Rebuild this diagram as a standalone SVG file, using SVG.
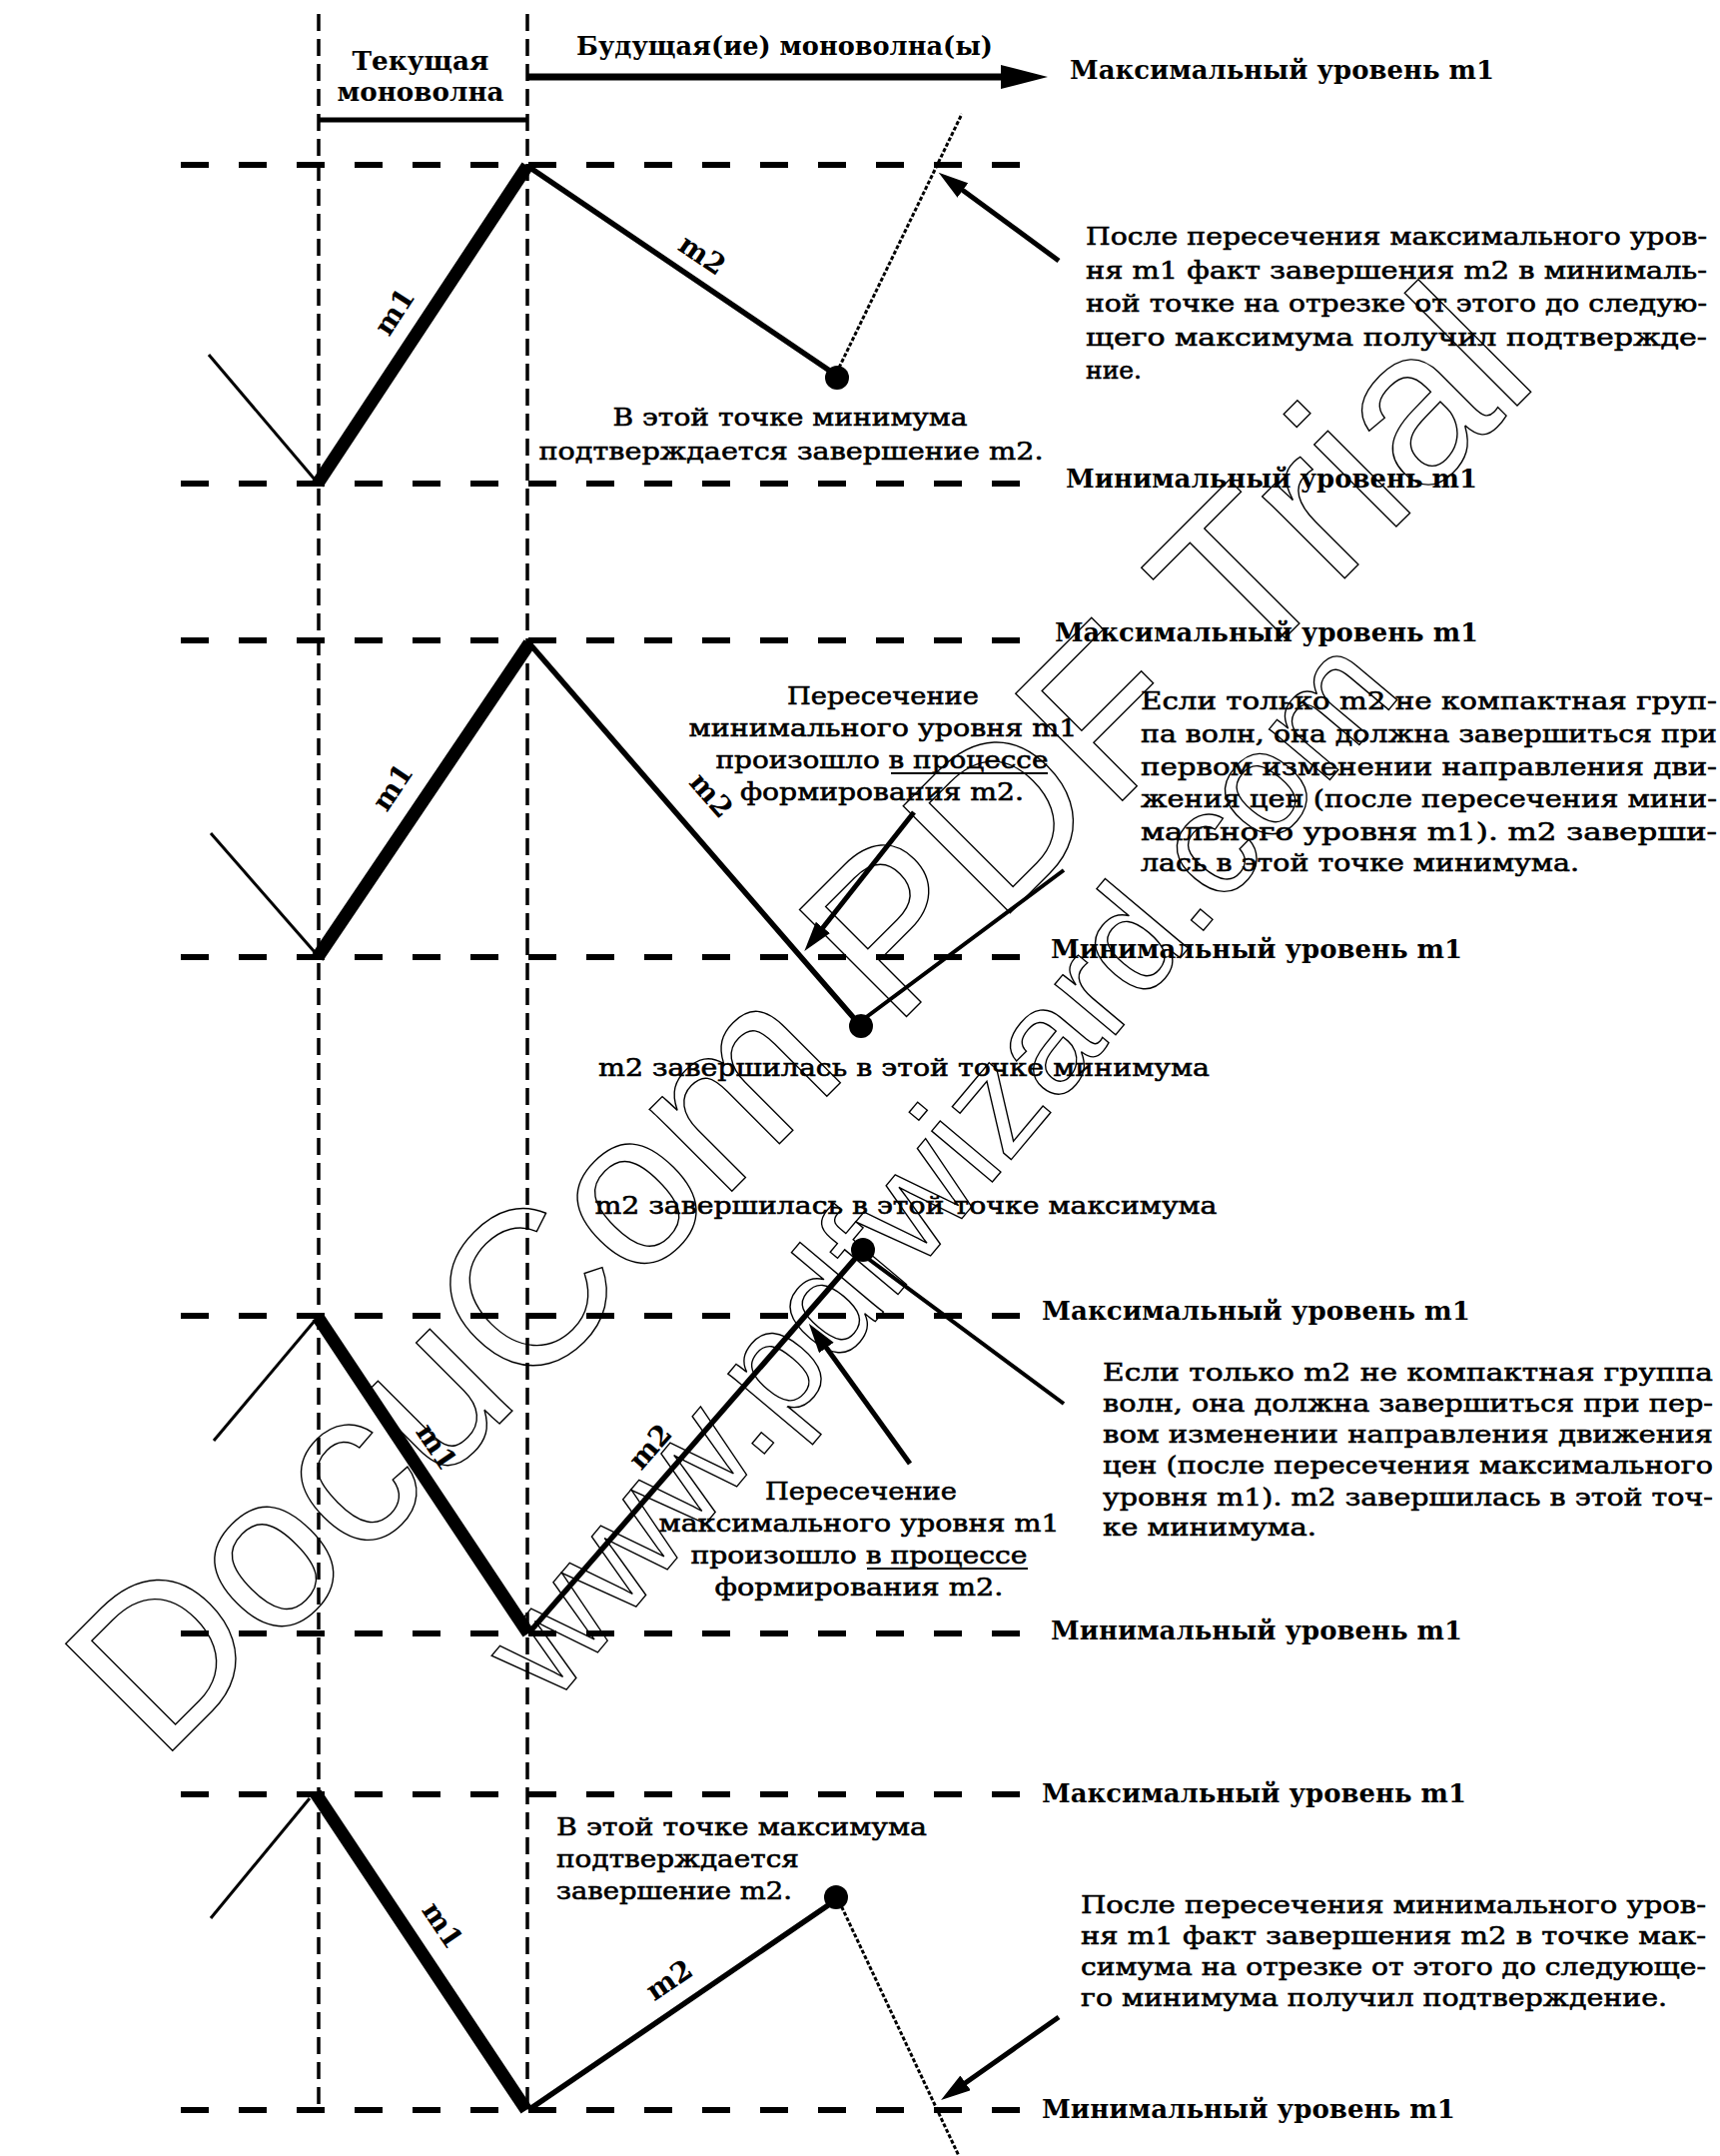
<svg xmlns="http://www.w3.org/2000/svg" width="1722" height="2158" viewBox="0 0 1722 2158">
<style>
  .lvl { stroke:#000; stroke-width:6; stroke-dasharray:28 30; fill:none; }
  .vert { stroke:#000; stroke-width:3.5; stroke-dasharray:17 8; fill:none; }
  .m1 { stroke:#000; stroke-width:13; stroke-linecap:butt; fill:none; }
  .m2 { stroke:#000; stroke-width:5.5; fill:none; }
  .thin { stroke:#000; stroke-width:3; fill:none; }
  .dot { stroke:#000; stroke-width:3; stroke-dasharray:4 2; fill:none; }
  .cont { stroke:#000; stroke-width:4; fill:none; }
  .ptr { stroke:#000; stroke-width:5; fill:none; marker-end:url(#ah); }
  .lbl { font-family:"DejaVu Serif","Liberation Serif",serif; font-weight:bold; font-size:26px; fill:#000; }
  .body { font-family:"DejaVu Serif","Liberation Serif",serif; font-size:25px; fill:#000; stroke:#000; stroke-width:0.6; }
  .wl { font-family:"DejaVu Serif","Liberation Serif",serif; font-weight:bold; font-size:28px; fill:#000; }
  .wm { font-family:"Liberation Sans",Arial,sans-serif; fill:none; stroke:#000; stroke-width:1.4; }
</style>
<defs>
  <marker id="ah" markerUnits="userSpaceOnUse" markerWidth="32" markerHeight="20" refX="16" refY="9" orient="auto">
    <path d="M0,0 L30,9 L0,18 z" fill="#000"/>
  </marker>
  <marker id="ahb" markerUnits="userSpaceOnUse" markerWidth="50" markerHeight="28" refX="27" refY="12" orient="auto">
    <path d="M0,0 L47,12 L0,24 z" fill="#000"/>
  </marker>
</defs>
<rect width="1722" height="2158" fill="#fff"/>

<!-- outlined diagonal stamp text -->
<g id="watermark">
  <text class="wm" font-size="220" transform="translate(160,1765) rotate(-45)">DocuCom PDF Trial</text>
  <text class="wm" font-size="150" transform="translate(553,1708) rotate(-50)">www.pdfwizard.com</text>
</g>

<!-- column guides -->
<g id="guides">
  <line class="vert" x1="319" y1="14" x2="319" y2="2112"/>
  <line class="vert" x1="528" y1="14" x2="528" y2="2112"/>
</g>

<!-- header -->
<g id="header">
  <text class="lbl" x="421" y="70" text-anchor="middle" textLength="137" lengthAdjust="spacingAndGlyphs">Текущая</text>
  <text class="lbl" x="421" y="101" text-anchor="middle" textLength="167" lengthAdjust="spacingAndGlyphs">моноволна</text>
  <line x1="319" y1="120" x2="528" y2="120" stroke="#000" stroke-width="5"/>
  <text class="lbl" x="577" y="55" textLength="417" lengthAdjust="spacingAndGlyphs">Будущая(ие) моноволна(ы)</text>
  <line x1="528" y1="77" x2="1029" y2="77" stroke="#000" stroke-width="7" marker-end="url(#ahb)"/>
  <text class="lbl" x="1071" y="79" textLength="425" lengthAdjust="spacingAndGlyphs">Максимальный уровень m1</text>
</g>

<!-- panel 1: rising m1, falling m2, completion confirmed above the m1 high -->
<g id="panel1">
  <line class="lvl" x1="181" y1="165" x2="1027" y2="165"/>
  <line class="lvl" x1="181" y1="484" x2="1027" y2="484"/>
  <text class="lbl" x="1067" y="488" textLength="412" lengthAdjust="spacingAndGlyphs">Минимальный уровень m1</text>
  <line class="thin" x1="209" y1="355" x2="316" y2="481"/>
  <line class="m1" x1="318" y1="484" x2="528" y2="166"/>
  <line class="m2" x1="528" y1="166" x2="838" y2="376"/>
  <line class="dot" x1="840" y1="368" x2="963" y2="114"/>
  <circle cx="838" cy="378" r="12" fill="#000"/>
  <line class="ptr" x1="1060" y1="261" x2="951" y2="181"/>
  <text class="wl" transform="translate(395,312) rotate(-57)" text-anchor="middle" dominant-baseline="central">m1</text>
  <text class="wl" transform="translate(703,255) rotate(34)" text-anchor="middle" dominant-baseline="central">m2</text>
  <text class="body" x="791" y="426" text-anchor="middle" textLength="355" lengthAdjust="spacingAndGlyphs">В этой точке минимума</text>
  <text class="body" x="792" y="460" text-anchor="middle" textLength="505" lengthAdjust="spacingAndGlyphs">подтверждается завершение m2.</text>
  <text class="body" x="1087" y="245" textLength="622" lengthAdjust="spacingAndGlyphs">После пересечения максимального уров-</text>
  <text class="body" x="1087" y="279" textLength="622" lengthAdjust="spacingAndGlyphs">ня m1 факт завершения m2 в минималь-</text>
  <text class="body" x="1087" y="312" textLength="622" lengthAdjust="spacingAndGlyphs">ной точке на отрезке от этого до следую-</text>
  <text class="body" x="1087" y="346" textLength="622" lengthAdjust="spacingAndGlyphs">щего максимума получил подтвержде-</text>
  <text class="body" x="1087" y="379">ние.</text>
</g>

<!-- panel 2: rising m1, m2 breaks the m1 low -->
<g id="panel2">
  <line class="lvl" x1="181" y1="641" x2="1027" y2="641"/>
  <text class="lbl" x="1056" y="642" textLength="424" lengthAdjust="spacingAndGlyphs">Максимальный уровень m1</text>
  <line class="lvl" x1="181" y1="958" x2="1027" y2="958"/>
  <text class="lbl" x="1052" y="959" textLength="412" lengthAdjust="spacingAndGlyphs">Минимальный уровень m1</text>
  <line class="thin" x1="211" y1="834" x2="315" y2="953"/>
  <line class="m1" x1="318" y1="958" x2="530" y2="644"/>
  <line class="m2" x1="530" y1="644" x2="860" y2="1025"/>
  <line class="cont" x1="866" y1="1019" x2="1065" y2="871"/>
  <circle cx="862" cy="1027" r="12" fill="#000"/>
  <line class="ptr" x1="915" y1="813" x2="814" y2="941"/>
  <text class="wl" transform="translate(393,788) rotate(-56)" text-anchor="middle" dominant-baseline="central">m1</text>
  <text class="wl" transform="translate(712,796) rotate(49)" text-anchor="middle" dominant-baseline="central">m2</text>
  <text class="body" x="884" y="705" text-anchor="middle" textLength="192" lengthAdjust="spacingAndGlyphs">Пересечение</text>
  <text class="body" x="884" y="737" text-anchor="middle" textLength="389" lengthAdjust="spacingAndGlyphs">минимального уровня m1</text>
  <text class="body" x="883" y="769" text-anchor="middle" textLength="333" lengthAdjust="spacingAndGlyphs">произошло в процессе</text>
  <line x1="892" y1="774" x2="1049" y2="774" stroke="#000" stroke-width="2"/>
  <text class="body" x="883" y="801" text-anchor="middle" textLength="284" lengthAdjust="spacingAndGlyphs">формирования m2.</text>
  <text class="body" x="905" y="1077" text-anchor="middle" textLength="612" lengthAdjust="spacingAndGlyphs">m2 завершилась в этой точке минимума</text>
  <text class="body" x="1142" y="710" textLength="577" lengthAdjust="spacingAndGlyphs">Если только m2 не компактная груп-</text>
  <text class="body" x="1142" y="743" textLength="577" lengthAdjust="spacingAndGlyphs">па волн, она должна завершиться при</text>
  <text class="body" x="1142" y="776" textLength="577" lengthAdjust="spacingAndGlyphs">первом изменении направления дви-</text>
  <text class="body" x="1142" y="808" textLength="577" lengthAdjust="spacingAndGlyphs">жения цен (после пересечения мини-</text>
  <text class="body" x="1142" y="841" textLength="577" lengthAdjust="spacingAndGlyphs">мального уровня m1). m2 заверши-</text>
  <text class="body" x="1142" y="872" textLength="439" lengthAdjust="spacingAndGlyphs">лась в этой точке минимума.</text>
</g>

<!-- panel 3: falling m1, m2 breaks the m1 high -->
<g id="panel3">
  <text class="body" x="907" y="1215" text-anchor="middle" textLength="623" lengthAdjust="spacingAndGlyphs">m2 завершилась в этой точке максимума</text>
  <line class="lvl" x1="181" y1="1317" x2="1022" y2="1317"/>
  <text class="lbl" x="1043" y="1321" textLength="429" lengthAdjust="spacingAndGlyphs">Максимальный уровень m1</text>
  <line class="lvl" x1="181" y1="1635" x2="1022" y2="1635"/>
  <text class="lbl" x="1052" y="1641" textLength="412" lengthAdjust="spacingAndGlyphs">Минимальный уровень m1</text>
  <line class="thin" x1="214" y1="1442" x2="315" y2="1322"/>
  <line class="m1" x1="318" y1="1318" x2="529" y2="1635"/>
  <line class="m2" x1="529" y1="1635" x2="862" y2="1253"/>
  <line class="cont" x1="868" y1="1259" x2="1065" y2="1405"/>
  <circle cx="864" cy="1251" r="12" fill="#000"/>
  <line class="ptr" x1="911" y1="1465" x2="818" y2="1336"/>
  <text class="wl" transform="translate(437,1448) rotate(56)" text-anchor="middle" dominant-baseline="central">m1</text>
  <text class="wl" transform="translate(651,1448) rotate(-49)" text-anchor="middle" dominant-baseline="central">m2</text>
  <text class="body" x="862" y="1501" text-anchor="middle" textLength="192" lengthAdjust="spacingAndGlyphs">Пересечение</text>
  <text class="body" x="860" y="1533" text-anchor="middle" textLength="401" lengthAdjust="spacingAndGlyphs">максимального уровня m1</text>
  <text class="body" x="860" y="1565" text-anchor="middle" textLength="337" lengthAdjust="spacingAndGlyphs">произошло в процессе</text>
  <line x1="868" y1="1570" x2="1029" y2="1570" stroke="#000" stroke-width="2"/>
  <text class="body" x="860" y="1597" text-anchor="middle" textLength="289" lengthAdjust="spacingAndGlyphs">формирования m2.</text>
  <text class="body" x="1104" y="1382" textLength="611" lengthAdjust="spacingAndGlyphs">Если только m2 не компактная группа</text>
  <text class="body" x="1104" y="1413" textLength="611" lengthAdjust="spacingAndGlyphs">волн, она должна завершиться при пер-</text>
  <text class="body" x="1104" y="1444" textLength="611" lengthAdjust="spacingAndGlyphs">вом изменении направления движения</text>
  <text class="body" x="1104" y="1475" textLength="611" lengthAdjust="spacingAndGlyphs">цен (после пересечения максимального</text>
  <text class="body" x="1104" y="1507" textLength="611" lengthAdjust="spacingAndGlyphs">уровня m1). m2 завершилась в этой точ-</text>
  <text class="body" x="1104" y="1537" textLength="214" lengthAdjust="spacingAndGlyphs">ке минимума.</text>
</g>

<!-- panel 4: falling m1, rising m2, completion confirmed below the m1 low -->
<g id="panel4">
  <line class="lvl" x1="181" y1="1796" x2="1021" y2="1796"/>
  <text class="lbl" x="1043" y="1804" textLength="425" lengthAdjust="spacingAndGlyphs">Максимальный уровень m1</text>
  <line class="lvl" x1="181" y1="2112" x2="1021" y2="2112"/>
  <text class="lbl" x="1043" y="2120" textLength="414" lengthAdjust="spacingAndGlyphs">Минимальный уровень m1</text>
  <line class="thin" x1="211" y1="1920" x2="310" y2="1800"/>
  <line class="m1" x1="316" y1="1795" x2="527" y2="2112"/>
  <line class="m2" x1="529" y1="2112" x2="835" y2="1903"/>
  <line class="dot" x1="840" y1="1903" x2="960" y2="2158"/>
  <circle cx="837" cy="1899" r="12" fill="#000"/>
  <line class="ptr" x1="1060" y1="2019" x2="953.5" y2="2094"/>
  <text class="wl" transform="translate(443,1927) rotate(56)" text-anchor="middle" dominant-baseline="central">m1</text>
  <text class="wl" transform="translate(670,1982) rotate(-34)" text-anchor="middle" dominant-baseline="central">m2</text>
  <text class="body" x="557" y="1837" textLength="371" lengthAdjust="spacingAndGlyphs">В этой точке максимума</text>
  <text class="body" x="557" y="1869" textLength="243" lengthAdjust="spacingAndGlyphs">подтверждается</text>
  <text class="body" x="557" y="1901" textLength="236" lengthAdjust="spacingAndGlyphs">завершение m2.</text>
  <text class="body" x="1082" y="1915" textLength="626" lengthAdjust="spacingAndGlyphs">После пересечения минимального уров-</text>
  <text class="body" x="1082" y="1946" textLength="626" lengthAdjust="spacingAndGlyphs">ня m1 факт завершения m2 в точке мак-</text>
  <text class="body" x="1082" y="1977" textLength="626" lengthAdjust="spacingAndGlyphs">симума на отрезке от этого до следующе-</text>
  <text class="body" x="1082" y="2008" textLength="587" lengthAdjust="spacingAndGlyphs">го минимума получил подтверждение.</text>
</g>
</svg>
